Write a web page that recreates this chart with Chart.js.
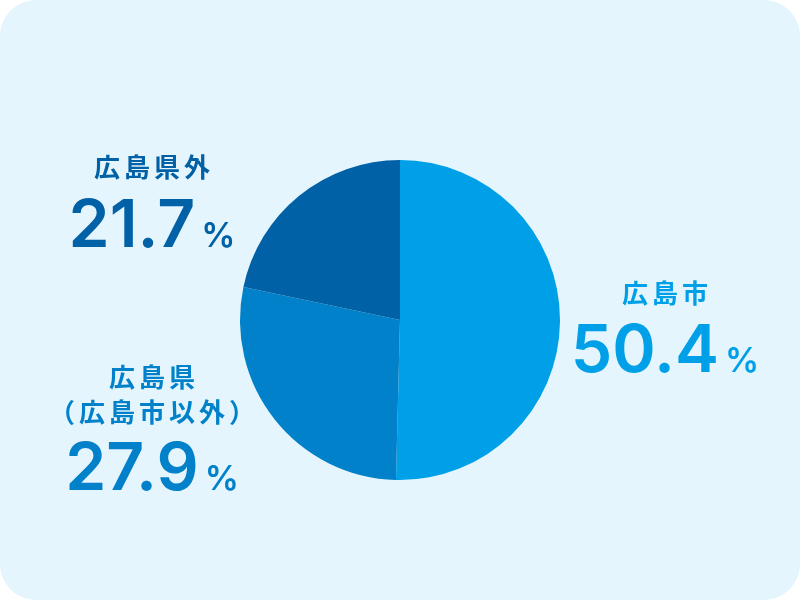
<!DOCTYPE html>
<html>
<head>
<meta charset="utf-8">
<script src="https://cdn.jsdelivr.net/npm/chart.js@4"></script>
<style>
  html, body { margin: 0; padding: 0; background: #fff; }
  #wrap { width: 800px; height: 600px; background: #e5f5fd; border-radius: 36px; overflow: hidden; }
</style>
</head>
<body>
<div id="wrap"><canvas id="sharePie" width="800" height="600"></canvas></div>
<script>
// data
const regions = ['広島市', '広島県（広島市以外）', '広島県外'];
const shares = [50.4, 27.9, 21.7];
const titleLines = [['広島市'], ['広島県', '（広島市以外）'], ['広島県外']];
const sliceColors = ['#00a0e9', '#0081c9', '#0061a6'];

// where each caption sits (centre x, title baselines, number baseline)
const captionSpots = [
  { x: 665, titles: [303], num: 372 },
  { x: 152, titles: [387, 422], num: 490 },
  { x: 152, titles: [177], num: 247 }
];

function spacedText(ctx, text, cx, y, spacing) {
  ctx.letterSpacing = spacing + 'px';
  const w = ctx.measureText(text).width - spacing;
  ctx.fillText(text, cx - w / 2, y);
  return w;
}

const captionPlugin = {
  id: 'captions',
  afterDraw(chart) {
    const ctx = chart.ctx;
    ctx.save();
    ctx.textAlign = 'left';
    ctx.textBaseline = 'alphabetic';
    captionSpots.forEach((spot, i) => {
      ctx.fillStyle = sliceColors[i];
      ctx.font = 'bold 26px "Noto Sans CJK JP"';
      titleLines[i].forEach((line, j) => {
        spacedText(ctx, line, spot.x, spot.titles[j], 4);
      });
      const num = shares[i].toFixed(1);
      ctx.letterSpacing = '0px';
      ctx.font = '600 66px Inter';
      const numW = ctx.measureText(num).width;
      ctx.font = '600 34px Inter';
      const pctW = ctx.measureText('%').width;
      const gap = 6;
      const left = spot.x - (numW + gap + pctW) / 2;
      ctx.font = '600 66px Inter';
      ctx.fillText(num, left, spot.num);
      ctx.font = '600 34px Inter';
      ctx.fillText('%', left + numW + gap, spot.num);
    });
    ctx.restore();
  }
};

new Chart(document.getElementById('sharePie').getContext('2d'), {
  type: 'pie',
  data: {
    labels: regions,
    datasets: [{
      data: shares,
      backgroundColor: sliceColors,
      borderWidth: 0
    }]
  },
  options: {
    responsive: false,
    animation: false,
    layout: { padding: { left: 240, right: 240, top: 160, bottom: 120 } },
    plugins: {
      legend: { display: false },
      tooltip: { enabled: false }
    }
  },
  plugins: [captionPlugin]
});
</script>
</body>
</html>
